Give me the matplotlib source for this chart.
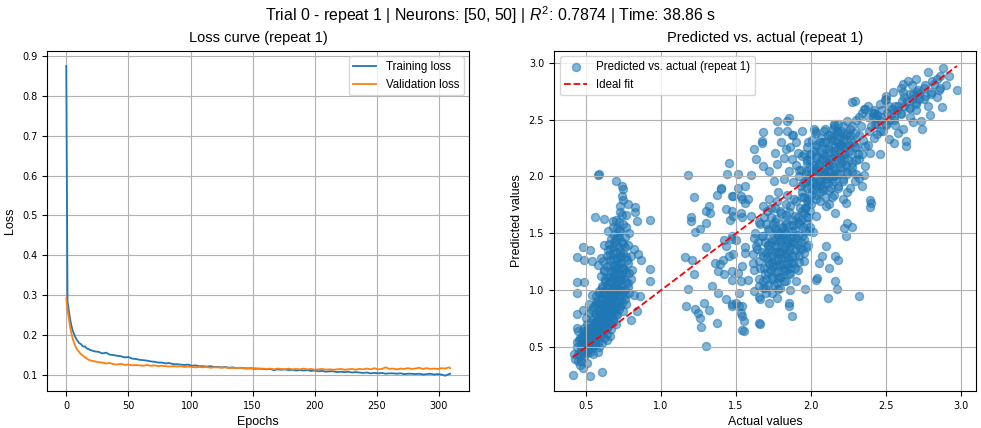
import numpy as np
import matplotlib
matplotlib.use("Agg")
import matplotlib.pyplot as plt

plt.rcParams['font.family'] = ['Liberation Sans', 'DejaVu Sans']
plt.rcParams['mathtext.fontset'] = 'custom'
plt.rcParams['mathtext.rm'] = 'Liberation Sans'
plt.rcParams['mathtext.it'] = 'Liberation Sans:italic'

# loss curves
epochs = np.r_[0:20, 20:309:3, 309]
train_loss = [
    0.876, 0.285, 0.262, 0.240, 0.225, 0.212, 0.204, 0.196, 0.190, 0.185,
    0.180, 0.178, 0.176, 0.172, 0.170, 0.171, 0.167, 0.165, 0.164, 0.162,
    0.161, 0.158, 0.157, 0.153, 0.155, 0.150, 0.149, 0.147, 0.146, 0.143,
    0.144, 0.140, 0.139, 0.137, 0.136, 0.135, 0.133, 0.132, 0.130, 0.130,
    0.128, 0.129, 0.126, 0.126, 0.125, 0.124, 0.125, 0.122, 0.123, 0.121,
    0.121, 0.120, 0.121, 0.119, 0.119, 0.118, 0.119, 0.117, 0.118, 0.116,
    0.117, 0.116, 0.115, 0.116, 0.114, 0.115, 0.114, 0.113, 0.114, 0.111,
    0.113, 0.112, 0.113, 0.111, 0.112, 0.110, 0.111, 0.110, 0.111, 0.109,
    0.110, 0.108, 0.109, 0.107, 0.108, 0.108, 0.106, 0.107, 0.106, 0.107,
    0.105, 0.106, 0.105, 0.104, 0.105, 0.103, 0.104, 0.103, 0.104, 0.102,
    0.103, 0.103, 0.102, 0.103, 0.101, 0.102, 0.102, 0.101, 0.102, 0.100,
    0.101, 0.102, 0.100, 0.101, 0.100, 0.097, 0.101, 0.102,
]
val_loss = [
    0.291, 0.262, 0.242, 0.222, 0.205, 0.192, 0.182, 0.174, 0.167, 0.162,
    0.158, 0.154, 0.151, 0.148, 0.146, 0.143, 0.141, 0.139, 0.137, 0.136,
    0.135, 0.133, 0.131, 0.130, 0.128, 0.129, 0.126, 0.125, 0.127, 0.124,
    0.125, 0.123, 0.124, 0.123, 0.122, 0.124, 0.122, 0.123, 0.121, 0.122,
    0.121, 0.120, 0.121, 0.120, 0.121, 0.119, 0.120, 0.119, 0.118, 0.119,
    0.118, 0.119, 0.117, 0.118, 0.118, 0.117, 0.118, 0.116, 0.117, 0.116,
    0.117, 0.115, 0.116, 0.115, 0.116, 0.114, 0.115, 0.114, 0.115, 0.113,
    0.115, 0.114, 0.113, 0.115, 0.113, 0.114, 0.113, 0.115, 0.113, 0.114,
    0.112, 0.113, 0.114, 0.112, 0.113, 0.112, 0.113, 0.114, 0.112, 0.113,
    0.114, 0.112, 0.114, 0.113, 0.115, 0.113, 0.116, 0.113, 0.114, 0.118,
    0.114, 0.115, 0.113, 0.115, 0.114, 0.116, 0.114, 0.115, 0.117, 0.114,
    0.116, 0.114, 0.115, 0.114, 0.116, 0.115, 0.118, 0.116,
]

# predicted vs actual, read cluster by cluster
low_points = [
    (0.43, 0.40), (0.45, 0.44), (0.44, 0.50), (0.47, 0.47), (0.48, 0.53), (0.46, 0.58), (0.50, 0.50),
    (0.50, 0.57), (0.52, 0.52), (0.52, 0.60), (0.53, 0.46), (0.54, 0.56), (0.55, 0.63), (0.56, 0.52),
    (0.57, 0.59), (0.58, 0.66), (0.58, 0.55), (0.60, 0.62), (0.60, 0.70), (0.62, 0.58), (0.62, 0.66),
    (0.63, 0.73), (0.64, 0.62), (0.65, 0.69), (0.66, 0.76), (0.67, 0.66), (0.68, 0.72), (0.69, 0.80),
    (0.70, 0.70), (0.49, 0.42), (0.51, 0.45), (0.54, 0.49), (0.47, 0.38), (0.55, 0.44), (0.59, 0.50),
    (0.61, 0.54), (0.56, 0.68), (0.53, 0.67), (0.50, 0.64), (0.48, 0.60), (0.45, 0.64), (0.44, 0.55),
    (0.57, 0.72), (0.59, 0.77), (0.61, 0.79), (0.64, 0.56), (0.66, 0.60), (0.51, 0.36), (0.46, 0.34),
    (0.58, 0.46),
    (0.60, 0.84), (0.62, 0.88), (0.63, 0.81), (0.64, 0.93), (0.65, 0.86), (0.66, 0.98), (0.67, 0.90),
    (0.68, 1.03), (0.69, 0.95), (0.70, 0.86), (0.70, 1.08), (0.71, 0.99), (0.72, 0.91), (0.72, 1.14),
    (0.73, 1.04), (0.74, 0.96), (0.74, 1.20), (0.75, 1.10), (0.76, 1.00), (0.77, 1.16), (0.78, 1.06),
    (0.62, 0.97), (0.64, 1.05), (0.66, 1.12), (0.68, 1.18), (0.70, 1.22), (0.60, 0.92), (0.61, 1.02),
    (0.63, 1.10), (0.59, 0.98), (0.67, 0.78), (0.69, 0.84), (0.71, 0.78), (0.73, 0.86), (0.75, 0.82),
    (0.76, 0.92), (0.79, 0.98), (0.80, 1.10), (0.77, 0.88), (0.65, 0.78), (0.63, 0.74), (0.69, 1.12),
    (0.71, 1.26), (0.73, 1.30), (0.58, 0.88), (0.56, 0.80), (0.57, 0.90), (0.55, 0.85),
    (0.64, 1.30), (0.66, 1.36), (0.68, 1.28), (0.69, 1.42), (0.70, 1.34), (0.71, 1.48), (0.72, 1.38),
    (0.73, 1.52), (0.74, 1.42), (0.75, 1.33), (0.76, 1.47), (0.77, 1.56), (0.78, 1.40), (0.79, 1.50),
    (0.67, 1.45), (0.65, 1.52), (0.68, 1.56), (0.72, 1.60), (0.75, 1.58), (0.80, 1.30), (0.62, 1.40),
    (0.60, 1.28), (0.58, 1.22), (0.62, 1.18), (0.78, 1.24), (0.82, 1.36), (0.81, 1.18), (0.66, 1.22),
    (0.70, 1.62), (0.74, 1.66),
    (0.58, 2.01), (0.59, 2.02), (0.70, 1.96), (0.74, 1.92), (0.75, 1.89), (0.74, 1.83), (0.75, 1.79),
    (0.73, 1.74), (0.78, 1.76), (0.83, 1.73), (0.83, 1.69), (0.56, 1.64), (0.62, 1.63), (0.68, 1.61),
    (0.84, 1.61), (0.93, 1.62), (0.73, 1.69), (0.77, 1.66), (0.48, 1.38), (0.44, 1.29), (0.49, 1.27),
    (0.53, 1.35), (0.54, 1.26), (0.85, 1.32), (0.87, 1.27), (0.93, 1.19), (0.93, 1.08), (0.44, 1.07),
    (0.49, 1.07), (0.44, 0.98), (0.54, 0.96), (0.82, 0.96), (0.44, 0.79), (0.48, 0.83), (0.44, 0.67),
    (0.48, 0.64), (0.84, 0.82), (0.42, 0.44), (0.45, 0.38), (0.48, 0.32), (0.415, 0.26), (0.53, 0.25),
    (0.61, 0.28), (0.52, 0.88), (0.50, 0.76), (0.86, 0.95), (0.80, 0.74),
]
low_core = [
    (0.46, 0.42), (0.47, 0.49), (0.455, 0.56),
    (0.48, 0.45), (0.485, 0.52), (0.475, 0.59), (0.49, 0.67),
    (0.50, 0.47), (0.505, 0.55), (0.495, 0.62), (0.51, 0.70),
    (0.52, 0.49), (0.525, 0.57), (0.515, 0.64), (0.53, 0.72), (0.52, 0.80),
    (0.54, 0.52), (0.545, 0.60), (0.535, 0.67), (0.55, 0.75), (0.54, 0.83),
    (0.56, 0.55), (0.565, 0.63), (0.555, 0.71), (0.57, 0.78), (0.56, 0.87), (0.565, 0.95),
    (0.58, 0.58), (0.585, 0.66), (0.575, 0.74), (0.59, 0.82), (0.58, 0.91), (0.585, 0.99),
    (0.60, 0.61), (0.605, 0.69), (0.595, 0.77), (0.61, 0.86), (0.60, 0.95), (0.605, 1.04), (0.60, 1.13),
    (0.62, 0.64), (0.625, 0.72), (0.615, 0.81), (0.63, 0.90), (0.62, 0.99), (0.625, 1.08), (0.62, 1.17),
    (0.615, 1.26),
    (0.64, 0.67), (0.645, 0.75), (0.635, 0.84), (0.65, 0.93), (0.64, 1.02), (0.645, 1.11), (0.64, 1.21),
    (0.645, 1.35),
    (0.66, 0.71), (0.665, 0.80), (0.655, 0.89), (0.67, 0.98), (0.66, 1.07), (0.665, 1.17), (0.66, 1.27),
    (0.655, 1.41),
    (0.68, 0.75), (0.685, 0.84), (0.675, 0.93), (0.69, 1.02), (0.68, 1.11), (0.685, 1.22), (0.68, 1.33),
    (0.685, 1.49),
    (0.70, 0.79), (0.705, 0.89), (0.695, 0.98), (0.71, 1.07), (0.70, 1.16), (0.705, 1.28), (0.70, 1.40),
    (0.705, 1.55),
    (0.72, 0.84), (0.725, 0.94), (0.715, 1.03), (0.73, 1.13), (0.72, 1.23), (0.725, 1.34), (0.72, 1.47),
    (0.74, 0.89), (0.745, 1.00), (0.735, 1.10), (0.75, 1.20), (0.74, 1.30), (0.745, 1.41),
    (0.76, 0.96), (0.765, 1.07), (0.755, 1.18), (0.77, 1.29), (0.76, 1.38),
    (0.78, 1.03), (0.785, 1.15), (0.775, 1.27),
    # second pass over the darkest part of the left cluster
    (0.53, 0.54), (0.55, 0.58), (0.57, 0.62), (0.59, 0.68), (0.61, 0.72), (0.63, 0.78), (0.65, 0.82),
    (0.67, 0.87), (0.69, 0.92), (0.71, 0.96), (0.73, 1.00), (0.56, 0.66), (0.58, 0.72), (0.60, 0.80),
    (0.62, 0.85), (0.64, 0.90), (0.66, 0.95), (0.68, 1.00), (0.70, 1.04), (0.72, 1.08), (0.74, 1.14),
    (0.63, 0.96), (0.65, 1.02), (0.67, 1.08), (0.69, 1.15), (0.71, 1.20), (0.73, 1.24), (0.66, 1.31),
    (0.68, 1.38), (0.70, 1.45), (0.72, 1.53), (0.51, 0.60), (0.49, 0.56), (0.47, 0.52),
]
mid_points = [
    (1.18, 2.01), (1.22, 1.82), (1.20, 1.64), (1.20, 1.61), (1.30, 1.70), (1.32, 1.74), (1.33, 1.68),
    (1.30, 1.59), (1.40, 1.90), (1.37, 1.84), (1.45, 2.12), (1.44, 2.02), (1.51, 2.02), (1.60, 2.01),
    (1.51, 1.90), (1.56, 1.92), (1.58, 1.80), (1.47, 1.83), (1.53, 1.83), (1.16, 1.29), (1.21, 1.27),
    (1.23, 1.51), (1.26, 1.54), (1.22, 1.14), (1.18, 1.01), (1.17, 0.86), (1.23, 0.84), (1.25, 0.80),
    (1.26, 0.76), (1.27, 0.68), (1.30, 0.51), (1.32, 0.83), (1.34, 1.04), (1.38, 0.98), (1.36, 1.24),
    (1.41, 1.27), (1.38, 1.17), (1.43, 1.39), (1.45, 1.30), (1.47, 1.45), (1.46, 1.62), (1.48, 1.65),
    (1.53, 1.68), (1.56, 1.77), (1.60, 1.65), (1.47, 1.09), (1.51, 1.15), (1.52, 0.98), (1.50, 0.89),
    (1.43, 0.92), (1.47, 0.86), (1.52, 0.86), (1.53, 0.80), (1.54, 0.65), (1.65, 0.71), (1.56, 1.33),
    (1.61, 1.24), (1.63, 1.39), (1.58, 1.09), (1.65, 1.04), (1.66, 0.92), (1.70, 0.98), (1.72, 0.89),
    (1.78, 1.01), (1.85, 0.89), (1.87, 0.77), (1.77, 0.93), (1.85, 0.86), (1.78, 1.11), (1.96, 1.01),
    (2.03, 1.09), (2.11, 0.93), (2.16, 1.08), (2.17, 1.01), (2.32, 0.95), (2.05, 1.24), (2.07, 1.30),
    (2.10, 1.39), (2.16, 1.30), (2.23, 1.48), (2.27, 1.56), (2.01, 1.51), (2.03, 1.65), (2.10, 1.74),
    (2.16, 1.68), (2.23, 1.77), (2.24, 1.59), (2.22, 1.55), (2.18, 1.27), (2.04, 1.11), (2.12, 1.20),
    (1.42, 1.14), (1.47, 1.17), (1.42, 1.44), (1.29, 0.89), (1.37, 0.71), (1.30, 1.38), (1.39, 1.23),
    (1.66, 0.70), (1.62, 0.99), (1.65, 0.94), (1.68, 1.02), (1.55, 0.64), (1.54, 0.77), (1.55, 0.73),
    (1.47, 0.88), (1.54, 0.86), (1.48, 1.32), (1.54, 1.21), (1.53, 1.08), (1.47, 1.48), (1.50, 1.44),
    (1.56, 1.38), (1.43, 1.71), (1.47, 1.70), (1.54, 1.64), (1.40, 1.89), (1.48, 1.83), (1.54, 1.80),
    (1.66, 1.20), (1.68, 1.30), (1.69, 1.42), (1.70, 1.10), (1.71, 1.25), (1.72, 1.36), (1.72, 1.52),
    (1.73, 1.18), (1.74, 1.30), (1.75, 1.44), (1.75, 1.05), (1.76, 1.60), (1.77, 1.22), (1.78, 1.34),
    (1.78, 1.48), (1.79, 1.12), (1.80, 1.28), (1.80, 1.40), (1.81, 1.55), (1.82, 1.20), (1.83, 1.33),
    (1.83, 1.66), (1.84, 1.45), (1.85, 1.15), (1.85, 1.27), (1.86, 1.38), (1.87, 1.52), (1.88, 1.24),
    (1.88, 1.62), (1.89, 1.35), (1.90, 1.46), (1.91, 1.18), (1.92, 1.30), (1.92, 1.58), (1.93, 1.42),
    (1.94, 1.70), (1.95, 1.26), (1.96, 1.52), (1.97, 1.38), (1.98, 1.64), (1.70, 1.58), (1.73, 1.64),
    (1.67, 1.48), (1.69, 1.02), (1.74, 0.98), (1.79, 1.02), (1.82, 1.08), (1.86, 1.00), (1.90, 1.08),
    (1.76, 1.72), (1.80, 1.68), (1.86, 1.74), (1.64, 1.36), (1.62, 1.46), (1.66, 1.58), (1.71, 1.40),
    (1.76, 1.34), (1.79, 1.22), (1.84, 1.30), (1.87, 1.42), (1.81, 1.47), (1.77, 1.52), (1.74, 1.12),
    (1.83, 1.58), (1.94, 1.48), (1.99, 1.56), (1.96, 1.72), (1.91, 1.64), (1.68, 1.74), (1.72, 1.80),
    (1.78, 1.86), (1.84, 1.84), (1.90, 1.78),
]
mid_core = [
    (1.62, 1.18), (1.615, 1.32), (1.625, 1.50),
    (1.65, 1.10), (1.655, 1.26), (1.645, 1.42), (1.65, 1.60),
    (1.68, 1.08), (1.685, 1.20), (1.675, 1.34), (1.68, 1.48), (1.685, 1.64),
    (1.71, 1.05), (1.715, 1.16), (1.705, 1.28), (1.71, 1.40), (1.715, 1.54), (1.705, 1.70),
    (1.74, 1.10), (1.745, 1.21), (1.735, 1.33), (1.74, 1.45), (1.745, 1.58), (1.735, 1.72),
    (1.77, 1.06), (1.775, 1.17), (1.765, 1.27), (1.77, 1.38), (1.775, 1.50), (1.765, 1.63), (1.77, 1.78),
    (1.80, 1.12), (1.805, 1.23), (1.795, 1.33), (1.80, 1.44), (1.805, 1.56), (1.795, 1.70),
    (1.83, 1.08), (1.835, 1.18), (1.825, 1.29), (1.83, 1.39), (1.835, 1.50), (1.825, 1.62), (1.83, 1.76),
    (1.86, 1.14), (1.865, 1.24), (1.855, 1.35), (1.86, 1.46), (1.865, 1.57), (1.855, 1.69),
    (1.89, 1.20), (1.895, 1.31), (1.885, 1.42), (1.89, 1.53), (1.895, 1.65), (1.885, 1.80),
    (1.92, 1.25), (1.925, 1.37), (1.915, 1.49), (1.92, 1.60), (1.925, 1.72),
    (1.95, 1.33), (1.955, 1.45), (1.945, 1.56), (1.95, 1.68), (1.955, 1.82),
    (1.98, 1.40), (1.985, 1.52), (1.975, 1.64), (1.98, 1.76),
    # second pass over the darkest middle patch
    (1.69, 1.14), (1.72, 1.23), (1.75, 1.17), (1.78, 1.27), (1.81, 1.17), (1.84, 1.23), (1.87, 1.30),
    (1.70, 1.33), (1.73, 1.42), (1.76, 1.40), (1.79, 1.45), (1.82, 1.37), (1.85, 1.42), (1.88, 1.48),
    (1.91, 1.40), (1.94, 1.36), (1.76, 1.55), (1.82, 1.52), (1.88, 1.57), (1.93, 1.62), (1.97, 1.58),
    (1.99, 1.70), (1.74, 1.25), (1.80, 1.33), (1.86, 1.20),
]
high_points = [
    (2.88, 2.95), (2.97, 2.76), (2.90, 2.80), (2.78, 2.92), (2.82, 2.81), (2.61, 2.81), (2.67, 2.80),
    (2.71, 2.76), (2.76, 2.71), (2.70, 2.65), (2.61, 2.74), (2.87, 2.61), (2.79, 2.54), (2.73, 2.49),
    (2.66, 2.52), (2.50, 2.71), (2.49, 2.67), (2.54, 2.59), (2.47, 2.58), (2.42, 2.56), (2.29, 2.66),
    (2.36, 2.59), (2.32, 2.52), (2.41, 2.52), (2.56, 2.45), (2.61, 2.42), (2.63, 2.31), (2.63, 2.27),
    (2.52, 2.33), (2.55, 2.29), (2.44, 2.37), (2.46, 2.20), (2.74, 2.42), (2.36, 2.27), (2.32, 2.15),
    (2.36, 2.09), (2.39, 2.21), (2.32, 1.99), (2.34, 1.92), (2.39, 1.79), (2.39, 1.73), (2.35, 2.01),
    (2.40, 1.77),
    (2.58, 2.62), (2.64, 2.66), (2.68, 2.72), (2.72, 2.68), (2.75, 2.78), (2.80, 2.74), (2.84, 2.86),
    (2.86, 2.78), (2.92, 2.88), (2.55, 2.52), (2.60, 2.55), (2.66, 2.60), (2.70, 2.58), (2.52, 2.62),
    (2.46, 2.50), (2.50, 2.45), (2.58, 2.38), (2.68, 2.48), (2.78, 2.62), (2.84, 2.70), (2.62, 2.70),
    (2.48, 2.40), (2.44, 2.46), (2.53, 2.55),
    (1.94, 1.86), (1.96, 1.95), (1.97, 2.05), (1.98, 1.80), (1.99, 2.14), (2.00, 1.90), (2.01, 2.00),
    (2.02, 2.22), (2.03, 1.84), (2.04, 2.08), (2.05, 1.96), (2.06, 2.30), (2.07, 2.15), (2.08, 1.88),
    (2.09, 2.02), (2.10, 2.24), (2.11, 1.94), (2.12, 2.10), (2.13, 2.34), (2.14, 1.82), (2.15, 2.00),
    (2.16, 2.18), (2.17, 2.40), (2.18, 1.92), (2.19, 2.08), (2.20, 2.28), (2.21, 1.98), (2.22, 2.16),
    (2.23, 2.36), (2.24, 2.04), (2.25, 2.22), (2.26, 1.90), (2.27, 2.12), (2.28, 2.30), (2.30, 2.02),
    (2.31, 2.20), (1.95, 2.20), (1.98, 2.30), (2.00, 1.76), (2.03, 2.38), (2.06, 1.78), (2.09, 2.42),
    (2.12, 1.76), (2.15, 2.44), (2.18, 2.46), (2.21, 1.80), (2.24, 1.86), (2.26, 2.42), (2.29, 1.96),
    (2.32, 2.36), (1.92, 2.00), (1.90, 2.10), (1.93, 1.92), (1.96, 1.72), (2.02, 2.10), (2.05, 2.05),
    (2.08, 2.00), (2.11, 2.05), (2.14, 2.12), (2.17, 2.02), (2.20, 2.12), (2.23, 2.10), (2.06, 1.92),
    (2.13, 1.90), (2.01, 1.95), (2.04, 2.18), (2.10, 2.16), (2.16, 2.26), (2.22, 2.26), (2.19, 2.35),
    (2.08, 2.30), (2.00, 2.02), (1.97, 2.12), (2.27, 2.04), (2.14, 1.98),
    (1.77, 2.49), (1.84, 2.49), (1.78, 2.40), (1.84, 2.40), (1.94, 2.40), (1.87, 2.36), (1.67, 2.31),
    (1.62, 2.24), (1.63, 2.15), (1.76, 2.21), (1.83, 2.24), (1.91, 2.21), (2.27, 2.65), (2.35, 2.59),
    (2.41, 2.56), (2.43, 2.51), (1.85, 2.51), (1.88, 2.36), (2.02, 2.42), (2.15, 2.46), (2.24, 2.49),
    (2.17, 2.39), (1.68, 2.39), (1.67, 2.29), (1.68, 2.09), (1.77, 2.11), (1.87, 2.15), (1.80, 2.30),
    (1.86, 2.26), (1.90, 2.30), (1.82, 2.16), (1.72, 2.05), (1.75, 1.96), (1.82, 1.98), (1.88, 1.95),
    (1.85, 2.05), (1.92, 2.06),
]
high_core = [
    (1.94, 1.82), (1.945, 1.94), (1.935, 2.06), (1.94, 2.18),
    (1.97, 1.78), (1.975, 1.90), (1.965, 2.02), (1.97, 2.14), (1.975, 2.26),
    (2.00, 1.84), (2.005, 1.96), (1.995, 2.08), (2.00, 2.20), (2.005, 2.32),
    (2.03, 1.80), (2.035, 1.92), (2.025, 2.04), (2.03, 2.16), (2.035, 2.28), (2.025, 2.40),
    (2.06, 1.86), (2.065, 1.98), (2.055, 2.10), (2.06, 2.22), (2.065, 2.34),
    (2.09, 1.82), (2.095, 1.94), (2.085, 2.06), (2.09, 2.18), (2.095, 2.30), (2.085, 2.40),
    (2.12, 1.88), (2.125, 2.00), (2.115, 2.12), (2.12, 2.24), (2.125, 2.36),
    (2.15, 1.84), (2.155, 1.96), (2.145, 2.08), (2.15, 2.20), (2.155, 2.32), (2.145, 2.42),
    (2.18, 1.90), (2.185, 2.02), (2.175, 2.14), (2.18, 2.26), (2.185, 2.38),
    (2.21, 1.96), (2.215, 2.08), (2.205, 2.20), (2.21, 2.32), (2.215, 2.44),
    (2.24, 2.02), (2.245, 2.14), (2.235, 2.26), (2.24, 2.38),
    (2.27, 2.08), (2.275, 2.20), (2.265, 2.32), (2.27, 2.44),
    (2.30, 2.14), (2.305, 2.26), (2.295, 2.38), (2.30, 2.50),
    (2.34, 2.20), (2.345, 2.32), (2.335, 2.44), (2.34, 2.56),
    (2.38, 2.28), (2.385, 2.40), (2.375, 2.52), (2.38, 2.62),
    (2.42, 2.34), (2.425, 2.46), (2.415, 2.58),
    (2.46, 2.40), (2.465, 2.52), (2.455, 2.64),
    (2.50, 2.46), (2.505, 2.56), (2.495, 2.68),
    (2.55, 2.50), (2.555, 2.62), (2.545, 2.74),
    (2.60, 2.56), (2.605, 2.66), (2.595, 2.78),
    (2.65, 2.60), (2.655, 2.72), (2.645, 2.84),
    (2.70, 2.64), (2.705, 2.74), (2.695, 2.86),
    (2.75, 2.68), (2.755, 2.80),
    (2.80, 2.72), (2.805, 2.84),
    (2.85, 2.76), (2.855, 2.88),
    # second pass over the darkest part of the upper blob
    (2.01, 1.88), (2.04, 1.94), (2.07, 2.04), (2.10, 2.10), (2.13, 2.16), (2.16, 2.22), (2.19, 2.28),
    (2.22, 2.34), (2.02, 2.06), (2.05, 2.12), (2.08, 2.20), (2.11, 2.26), (2.14, 2.32), (2.17, 2.30),
    (2.04, 2.26), (2.07, 1.90), (2.10, 1.98), (2.13, 2.04), (2.16, 2.06), (2.19, 2.16), (2.22, 2.20),
    (2.25, 2.28), (1.98, 1.98), (1.99, 2.20), (2.11, 2.36), (2.20, 2.40), (2.26, 2.36), (2.29, 2.26),
    (2.40, 2.44), (2.52, 2.50), (2.62, 2.62), (2.72, 2.72), (2.44, 2.54), (2.57, 2.58), (2.67, 2.68),
]

all_points = low_points + low_core + mid_points + mid_core + high_points + high_core
actual = np.array([p[0] for p in all_points])
predicted = np.array([p[1] for p in all_points])
r2 = 0.7874
run_time = 38.86

fig, (ax1, ax2) = plt.subplots(1, 2, figsize=(9.81, 4.28), dpi=100)
fig.subplots_adjust(left=0.048, right=0.995, bottom=0.086, top=0.882, wspace=0.2)

ax1.plot(epochs, train_loss, label='Training loss', lw=1.3)
ax1.plot(epochs, val_loss, label='Validation loss', lw=1.3)
ax1.set_title('Loss curve (repeat 1)', fontsize=10.5)
ax1.set_xlabel('Epochs', fontsize=9)
ax1.set_ylabel('Loss', fontsize=9)
ax1.legend(fontsize=8.3)
ax1.grid(True)

ax2.scatter(actual, predicted, s=34, alpha=0.55, label='Predicted vs. actual (repeat 1)')
lims = [actual.min(), actual.max()]
ax2.plot(lims, lims, 'r--', lw=1.3, label='Ideal fit')
ax2.set_title('Predicted vs. actual (repeat 1)', fontsize=10.5)
ax2.set_xlabel('Actual values', fontsize=9)
ax2.set_ylabel('Predicted values', fontsize=9)
ax2.legend(loc='upper left', fontsize=8.3)
ax2.grid(True)

for ax in (ax1, ax2):
    ax.tick_params(labelsize=7, labelfontfamily='DejaVu Sans')

fig.suptitle(f'Trial 0 - repeat 1 | Neurons: [50, 50] | $R^2$: {r2:.4f} | Time: {run_time:.2f} s',
             fontsize=11.4, y=0.99)

plt.savefig('out.png', dpi=100)
